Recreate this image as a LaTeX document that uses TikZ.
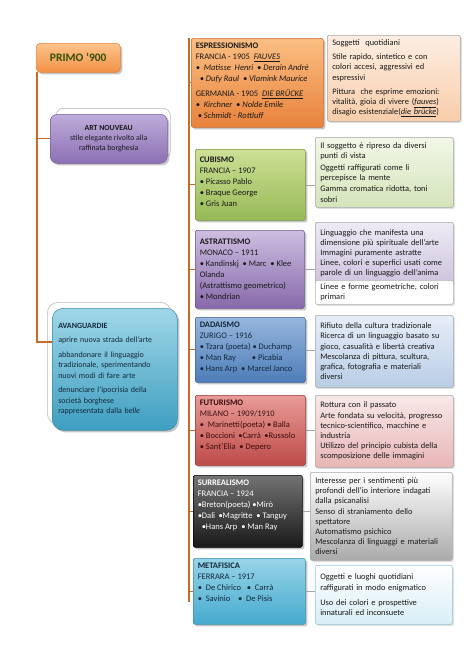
\documentclass[tikz,border=0pt]{standalone}
\usepackage{fontspec}
\setmainfont{Carlito}
\usetikzlibrary{shadows}
\definecolor{trunkc}{RGB}{205,105,40}
\definecolor{txt}{RGB}{25,25,25}
\definecolor{navy}{RGB}{20,40,60}
\definecolor{olive}{RGB}{50,80,10}
% left boxes
\definecolor{prT}{RGB}{252,195,140}\definecolor{prB}{RGB}{243,145,70}\definecolor{prD}{RGB}{230,130,60}
\definecolor{anT}{RGB}{190,172,218}\definecolor{anB}{RGB}{140,112,180}\definecolor{anD}{RGB}{120,95,160}
\definecolor{avT}{RGB}{160,215,232}\definecolor{avB}{RGB}{62,158,192}\definecolor{avD}{RGB}{60,140,170}
\definecolor{esT}{RGB}{251,190,130}\definecolor{esB}{RGB}{232,130,60}\definecolor{esD}{RGB}{200,110,50}
\definecolor{cuT}{RGB}{205,224,150}\definecolor{cuB}{RGB}{150,185,85}\definecolor{cuD}{RGB}{120,150,65}
\definecolor{asT}{RGB}{205,190,225}\definecolor{asB}{RGB}{135,105,170}\definecolor{asD}{RGB}{110,85,145}
\definecolor{daT}{RGB}{150,182,220}\definecolor{daB}{RGB}{78,125,185}\definecolor{daD}{RGB}{60,100,155}
\definecolor{fuT}{RGB}{232,155,152}\definecolor{fuB}{RGB}{190,75,72}\definecolor{fuD}{RGB}{150,55,52}
\definecolor{fuX}{RGB}{60,15,15}
\definecolor{suT}{RGB}{115,115,115}\definecolor{suB}{RGB}{25,25,25}
\definecolor{meT}{RGB}{150,212,232}\definecolor{meB}{RGB}{70,170,205}\definecolor{meD}{RGB}{60,145,175}
% right boxes
\definecolor{esrT}{RGB}{253,238,226}\definecolor{esrB}{RGB}{248,205,170}
\definecolor{curT}{RGB}{242,247,232}\definecolor{curB}{RGB}{212,228,185}
\definecolor{asrT}{RGB}{238,234,244}\definecolor{asrB}{RGB}{205,195,222}
\definecolor{darT}{RGB}{230,238,248}\definecolor{darB}{RGB}{185,205,230}
\definecolor{furT}{RGB}{248,232,232}\definecolor{furB}{RGB}{232,182,182}
\definecolor{surB}{RGB}{170,170,170}
\definecolor{merB}{RGB}{215,238,246}\definecolor{merD}{RGB}{150,200,222}
\newcommand\tbox[3]{\begin{minipage}[t][\dimexpr#1pt-9pt\relax][t]{\dimexpr#2pt-9pt\relax}\raggedright #3\end{minipage}}
\tikzset{
  lbox/.style={line width=0.5pt,
    rounded corners=1.5pt, anchor=north west, inner sep=4.5pt, text=txt,
    drop shadow={opacity=0.45, shadow xshift=2pt, shadow yshift=-2pt},
    font=\fontsize{8.5}{11}\selectfont, align=left},
  rbox/.style={line width=0.5pt, draw=gray!70,
    rounded corners=1.5pt, anchor=north west, inner sep=0pt, text=txt,
    drop shadow={opacity=0.25, shadow xshift=1.5pt, shadow yshift=-1.5pt},
    font=\fontsize{8.4}{10.2}\selectfont, align=left},
  trunk/.style={draw=trunkc, line width=1.3pt},
  tick/.style={draw=gray!70, line width=0.5pt},
  backing/.style={draw=gray!55, line width=0.6pt, fill=white, anchor=north west, inner sep=0pt}
}
\begin{document}
\begin{tikzpicture}[x=1pt,y=-1pt]
\useasboundingbox[fill=white] (0,0) rectangle (474,670);

% ---- left tree ----
\node[lbox, inner sep=0pt, top color=prT, bottom color=prB, draw=prD, rounded corners=4pt,
  minimum width=84pt, minimum height=29pt, align=center, text=olive,
  font=\fontsize{11.5}{13}\selectfont\bfseries] (primo) at (36,43) {PRIMO ’900};

\node[backing, rounded corners=7pt, minimum width=114pt, minimum height=50pt] (artnb) at (56,108) {};
\node[lbox, inner sep=0pt, top color=anT, bottom color=anB, draw=anD, rounded corners=7pt,
  minimum width=117pt, minimum height=49pt, align=center,
  font=\fontsize{7.8}{10}\selectfont] (artn) at (50,114)
  {\textbf{ART NOUVEAU}\\stile elegante rivolto alla\\raffinata borghesia};

\node[backing, rounded corners=11pt, minimum width=124pt, minimum height=122pt] (avangb) at (47,302) {};
\node[lbox, inner sep=0pt, top color=avT, bottom color=avB, draw=avD, rounded corners=11pt,
  minimum width=125pt, minimum height=122pt, text width=113pt, text=navy,
  font=\fontsize{8}{10.5}\selectfont] (avang) at (52,308)
  {\textbf{AVANGUARDIE}\\[4pt]
   aprire nuova strada dell’arte\\[4pt]
   abbandonare il linguaggio\\ tradizionale, sperimentando\\ nuovi modi di fare arte\\[4pt]
   denunciare l’ipocrisia della\\ società borghese\\ rappresentata dalla \textit{belle}};

\coordinate (ltop) at (37,72);
\coordinate (lbot) at (37,342);
\draw[trunk] (ltop) -- (lbot) -- (lbot -| avang.west);
\draw[trunk] (ltop |- artn.west) -- (artn.west);

% ---- right column: movements ----
\node[lbox, top color=esT, bottom color=esB, draw=esD] (espr) at (191,38)
  {\tbox{89}{132}{\textbf{ESPRESSIONISMO}\\
   FRANCIA - 1905 \ \underline{\textit{FAUVES}}\\
   \textit{• \ Matisse \ Henri \ • Derain Andrè}\\
   \hspace*{4pt}\textit{• Dufy Raul \ • Vlamink Maurice}\\[4pt]
   GERMANIA - 1905 \ \underline{\textit{DIE BRÜCKE}}\\
   \textit{• \ Kirchner \ • Nolde Emile}\\
   \hspace*{2pt}\textit{• Schmidt - Rottluff}}};

\node[lbox, top color=cuT, bottom color=cuB, draw=cuD] (cub) at (195,149)
  {\tbox{71}{110}{\vspace*{3pt}\textbf{CUBISMO}\\ FRANCIA – 1907\\ • Picasso Pablo\\ • Braque George\\ • Gris Juan}};

\node[lbox, top color=asT, bottom color=asB, draw=asD] (astr) at (195,230)
  {\tbox{78}{109}{\vspace*{4pt}\textbf{ASTRATTISMO}\\ MONACO – 1911\\ • Kandinskj \ • Marc \ • Klee\\ Olanda\\ (Astrattismo geometrico)\\ • Mondrian}};

\node[lbox, top color=daT, bottom color=daB, draw=daD, text=navy] (dada) at (195,317)
  {\tbox{65}{110}{\textbf{DADAISMO}\\ ZURIGO – 1916\\ • Tzara (poeta) • Duchamp\\ • Man Ray \hspace{14pt}• Picabia\\ • Hans Arp \ • Marcel Janco}};

\node[lbox, top color=fuT, bottom color=fuB, draw=fuD, text=fuX] (fut) at (195,395)
  {\tbox{70}{110}{\textbf{FUTURISMO}\\ MILANO – 1909/1910\\ • \ Marinetti(poeta) • Balla\\ • Boccioni \,•Carrà \,•Russolo\\ • Sant’Elia \ • Depero}};

\node[lbox, top color=suT, bottom color=suB, draw=black, text=white] (surr) at (193,475)
  {\tbox{72}{109}{\textbf{SURREALISMO}\\ FRANCIA – 1924\\ •Breton(poeta) •Mirò\\ •Dali \,•Magritte \ • Tanguy\\ \hspace*{4pt}•Hans Arp \ • Man Ray}};

\node[lbox, top color=meT, bottom color=meB, draw=meD, text=navy] (meta) at (193,558)
  {\tbox{66}{112}{\textbf{METAFISICA}\\ FERRARA – 1917\\ • \ De Chirico \ \ • \ Carrà\\ • \ Savinio \ \ \ • \ De Pisis}};

% ---- right column: characteristics ----
\node[rbox, top color=esrT, bottom color=esrB,
  minimum width=133pt, minimum height=86pt, text width=123pt] (esprR) at (327,35)
  {Soggetti \ quotidiani\\[4pt]
   Stile rapido, sintetico e con\\ colori accesi, aggressivi ed\\ espressivi\\[4pt]
   Pittura \ che esprime emozioni:\\ vitalità, gioia di vivere (\underline{\textit{fauves}})\\ disagio esistenziale(\underline{\textit{die brücke}})};

\node[rbox, top color=curT, bottom color=curB,
  minimum width=138pt, minimum height=70pt, text width=128pt] (cubR) at (315,137)
  {Il soggetto è ripreso da diversi\\ punti di vista\\[1.5pt]
   Oggetti raffigurati come li\\ percepisce la mente\\[1.5pt]
   Gamma cromatica ridotta, toni\\ sobri};

\node[rbox, top color=asrT, bottom color=asrB,
  minimum width=138pt, minimum height=62pt, text width=128pt] (astrR) at (315,222)
  {Linguaggio che manifesta una\\ dimensione più spirituale dell’arte\\ Immagini puramente astratte\\ Linee, colori e superfici usati come\\ parole di un linguaggio dell’anima};
\node[rbox, fill=white, draw=gray!60,
  minimum width=138pt, minimum height=24pt, text width=128pt] (astrR2) at (315,280)
  {Linee e forme geometriche, colori\\ primari};

\node[rbox, top color=darT, bottom color=darB,
  minimum width=138pt, minimum height=72pt, text width=128pt] (dadaR) at (315,315)
  {Rifiuto della cultura tradizionale\\ Ricerca di un linguaggio basato su\\ gioco, casualità e libertà creativa\\ Mescolanza di pittura, scultura,\\ grafica, fotografia e materiali\\ diversi};

\node[rbox, top color=furT, bottom color=furB,
  minimum width=138pt, minimum height=72pt, text width=128pt] (futR) at (315,395)
  {Rottura con il passato\\ Arte fondata su velocità, progresso\\ tecnico-scientifico, macchine e\\ industria\\ Utilizzo del principio cubista della\\ scomposizione delle immagini};

\node[rbox, top color=white, bottom color=surB, draw=gray!70,
  minimum width=142pt, minimum height=88pt, text width=132pt] (surrR) at (310,472)
  {Interesse per i sentimenti più\\ profondi dell’io interiore indagati\\ dalla psicanalisi\\ Senso di straniamento dello\\ spettatore\\ Automatismo psichico\\ Mescolanza di linguaggi e materiali\\ diversi};

\node[rbox, top color=white, bottom color=merB, draw=merD,
  minimum width=137pt, minimum height=59pt, text width=127pt] (metaR) at (315,565)
  {Oggetti e luoghi quotidiani\\ raffigurati in modo enigmatico\\[5pt]
   Uso dei colori e prospettive\\ innaturali ed inconsuete};

% ---- trunk and connectors ----
\coordinate (rtop) at (189,38);
\coordinate (rbot) at (189,602);
\draw[trunk] (rtop) -- (rbot);
\foreach \n in {espr,cub,astr,dada,fut,surr,meta}
  \draw[trunk, line width=0.8pt] (rtop |- \n.west) -- (\n.west);
\draw[tick] (cub.east) -- (cub.east -| cubR.west);
\draw[tick] (astr.east) -- (astr.east -| astrR.west);
\draw[tick] (dada.east) -- (dada.east -| dadaR.west);
\draw[tick] (fut.east) -- (fut.east -| futR.west);
\draw[tick] (surr.east) -- (surr.east -| surrR.west);
\draw[tick] (meta.east) -- (meta.east -| metaR.west);
\end{tikzpicture}
\end{document}
